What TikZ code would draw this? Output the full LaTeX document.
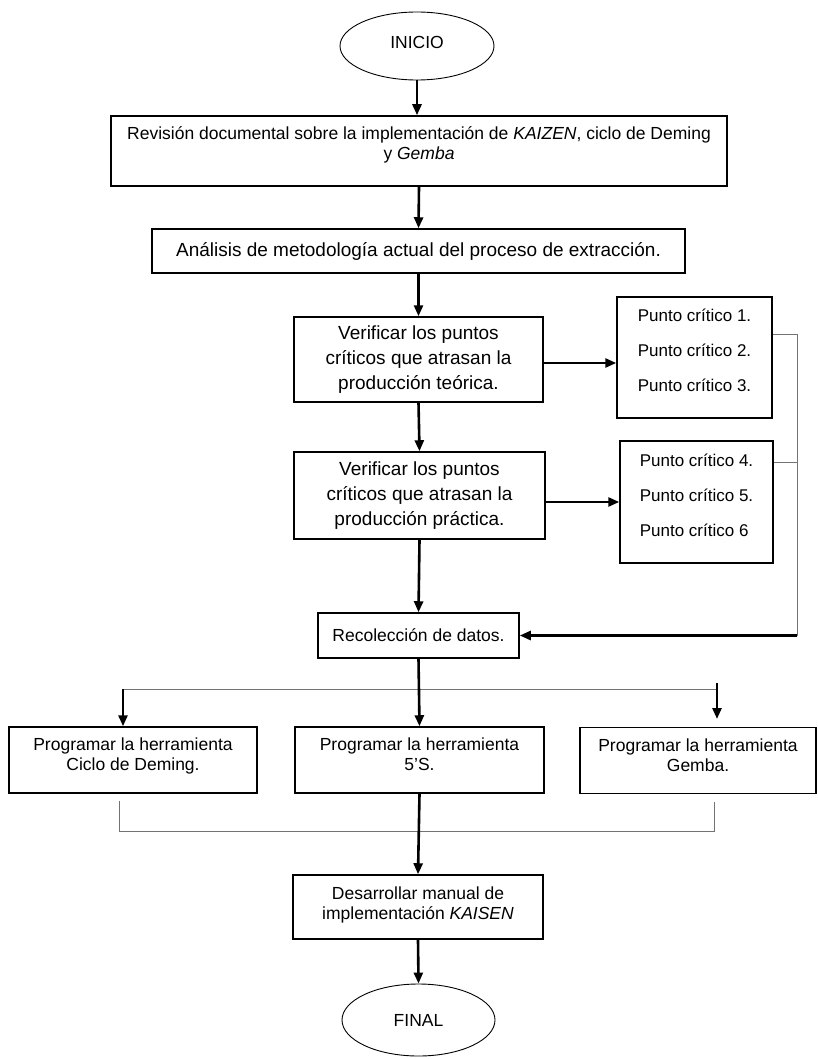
\documentclass[tikz,border=0pt]{standalone}
\usepackage{fontspec}
\setmainfont{Liberation Sans}
\usetikzlibrary{arrows.meta,positioning,shapes.geometric}

\begin{document}
\begin{tikzpicture}[x=1pt, y=-1pt,
  caja/.style={draw, line width=1.5pt, inner sep=0pt, align=center, font=\fontsize{17.5}{20}\selectfont},
  grande/.style={font=\fontsize{19}{25}\selectfont},
  puntos/.style={draw, line width=1.5pt, inner sep=0pt, align=left, text depth=14pt, font=\fontsize{17}{35}\selectfont},
  termino/.style={draw, ellipse, line width=0.9pt, inner sep=0pt, font=\fontsize{17.5}{20}\selectfont},
  flecha/.style={line width=2.6pt, -{Triangle[length=11pt,width=9pt]}},
  linea/.style={draw=black!55, line width=1pt}]
\useasboundingbox (0,0) rectangle (818,1059);

\node[termino, minimum width=154, minimum height=68, text depth=8pt] (inicio) at (417,46) {INICIO};
\node[caja, minimum width=616, minimum height=70, text depth=16pt] (revision) at (419,151)
  {Revisión documental sobre la implementación de \textit{KAIZEN}, ciclo de Deming\\y \textit{Gemba}};
\node[caja, grande, minimum width=533, minimum height=44] (analisis) at (418.5,251)
  {Análisis de metodología actual del proceso de extracción.};
\node[caja, grande, minimum width=249, minimum height=85] (verifT) at (418.5,359.5)
  {Verificar los puntos\\críticos que atrasan la\\producción teórica.};
\node[caja, grande, minimum width=251, minimum height=87] (verifP) at (419.5,495.5)
  {Verificar los puntos\\críticos que atrasan la\\producción práctica.};
\node[puntos, minimum width=155, minimum height=121] (puntosA) at (694.5,357.5)
  {Punto crítico 1.\\Punto crítico 2.\\Punto crítico 3.};
\node[puntos, minimum width=153, minimum height=122] (puntosB) at (696.5,502)
  {Punto crítico 4.\\Punto crítico 5.\\Punto crítico 6};
\node[caja, minimum width=201, minimum height=45] (recol) at (418.5,635.5) {Recolección de datos.};
\node[caja, minimum width=248, minimum height=66, text depth=11pt] (progA) at (133,760)
  {Programar la herramienta\\Ciclo de Deming.};
\node[caja, minimum width=249, minimum height=66, text depth=11pt] (progB) at (419.5,760)
  {Programar la herramienta\\5’S.};
\node[caja, minimum width=236, minimum height=66, text depth=11pt] (progC) at (698,760.5)
  {Programar la herramienta\\Gemba.};
\node[caja, minimum width=250, minimum height=64, text depth=8pt] (desarrollar) at (418,907)
  {Desarrollar manual de\\implementación \textit{KAISEN}};
\node[termino, minimum width=153, minimum height=72] (final) at (418.5,1020) {FINAL};

\coordinate (retorno) at (797,635.5);
\coordinate (repA) at (123,689);
\coordinate (repC) at (716,689);
\coordinate (bajaC) at (717,683);
\coordinate (finC) at (717,719);
\coordinate (junA) at (119,831);
\coordinate (junC) at (714,831);

\draw[flecha] (inicio.south) -- (inicio.south |- revision.north);
\draw[flecha] (revision.south) -- (analisis.north);
\draw[flecha] (analisis.south) -- (verifT.north);
\draw[flecha] (verifT.south) -- (verifP.north);
\draw[flecha] (verifP.south) -- (recol.north);
\draw[flecha] ([yshift=-3.5pt]verifT.east) -- ([yshift=-3.5pt]verifT.east -| puntosA.west);
\draw[flecha] ([yshift=-6.5pt]verifP.east) -- ([yshift=-6.5pt]verifP.east -| puntosB.west);

\draw[linea] ([yshift=23.5pt]puntosA.east) -| (retorno);
\draw[linea] ([yshift=40pt]puntosB.east) -- ([yshift=40pt]puntosB.east -| retorno);
\draw[flecha] (retorno) -- (recol.east);

\draw[linea] (repA) -- (repC);
\draw[flecha] (recol.south) -- (progB.north);
\draw[flecha] (repA) -- (repA |- progA.north);
\draw[flecha] (bajaC) -- (finC);

\draw[linea] ([yshift=30pt]junA) -- (junA) -- (junC) -- ([yshift=29pt]junC);
\draw[flecha] (progB.south) -- (desarrollar.north);
\draw[flecha] (desarrollar.south) -- (final.north);
\end{tikzpicture}
\end{document}
